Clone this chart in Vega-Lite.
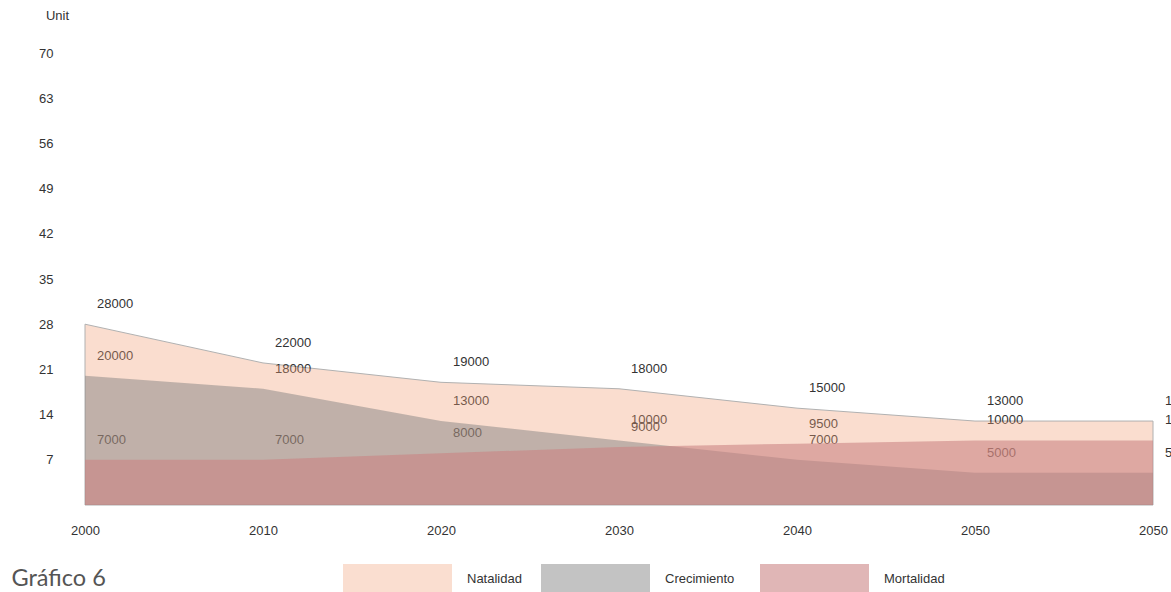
{
  "$schema": "https://vega.github.io/schema/vega-lite/v6.json",
  "autosize": {"type": "none"},
  "width": 1068,
  "height": 452,
  "padding": {"left": 85, "top": 53, "right": 18, "bottom": 87},
  "background": "white",
  "config": {
    "view": {"stroke": null},
    "font": "Liberation Sans",
    "legend": {"orient": "none", "legendY": 471.5, "direction": "horizontal", "title": null, "symbolType": "M-1,-0.275H1V0.275H-1Z", "symbolSize": 11881, "symbolStrokeWidth": 0, "labelOffset": 15, "labelFontSize": 13, "labelColor": "#333", "labelFont": "Liberation Sans", "padding": 0}
  },
  "data": {"values": [
    {"year": "2000", "serie": "Natalidad", "v": 28000},
    {"year": "2010", "serie": "Natalidad", "v": 22000},
    {"year": "2020", "serie": "Natalidad", "v": 19000},
    {"year": "2030", "serie": "Natalidad", "v": 18000},
    {"year": "2040", "serie": "Natalidad", "v": 15000},
    {"year": "2050", "serie": "Natalidad", "v": 13000},
    {"year": "2050 ", "serie": "Natalidad", "v": 13000},
    {"year": "2000", "serie": "Crecimiento", "v": 20000},
    {"year": "2010", "serie": "Crecimiento", "v": 18000},
    {"year": "2020", "serie": "Crecimiento", "v": 13000},
    {"year": "2030", "serie": "Crecimiento", "v": 10000},
    {"year": "2040", "serie": "Crecimiento", "v": 7000},
    {"year": "2050", "serie": "Crecimiento", "v": 5000},
    {"year": "2050 ", "serie": "Crecimiento", "v": 5000},
    {"year": "2000", "serie": "Mortalidad", "v": 7000},
    {"year": "2010", "serie": "Mortalidad", "v": 7000},
    {"year": "2020", "serie": "Mortalidad", "v": 8000},
    {"year": "2030", "serie": "Mortalidad", "v": 9000},
    {"year": "2040", "serie": "Mortalidad", "v": 9500},
    {"year": "2050", "serie": "Mortalidad", "v": 10000},
    {"year": "2050 ", "serie": "Mortalidad", "v": 10000}
  ]},
  "encoding": {
    "x": {"field": "year", "type": "ordinal", "sort": null, "scale": {"type": "point", "padding": 0},
      "axis": {"title": "Gráfico 6", "titleX": -74, "titleY": 73, "titleAlign": "left", "titleAnchor": null, "titleBaseline": "middle", "titleFont": "Lato", "titleFontSize": 23.5, "titleFontWeight": "normal", "titleColor": "#555",
        "labelAngle": 0, "labelExpr": "trim(datum.label)", "labelFontSize": 13, "labelColor": "#333", "labelPadding": 19, "ticks": false, "tickSize": 0, "domain": false, "grid": false}},
    "y": {"field": "v", "type": "quantitative", "stack": null, "scale": {"domain": [0, 70000], "nice": false},
      "axis": {"values": [7000, 14000, 21000, 28000, 35000, 42000, 49000, 56000, 63000, 70000], "labelExpr": "'' + datum.value / 1000", "title": "Unit", "titleAngle": 0, "titleX": -28, "titleY": -38, "titleAlign": "center", "titleBaseline": "middle", "titleFontWeight": "normal", "titleFontSize": 13, "titleColor": "#333", "labelFontSize": 13, "labelColor": "#333", "labelPadding": 32, "ticks": false, "tickSize": 0, "domain": false, "grid": false}}
  },
  "layer": [
    {
      "mark": {"type": "text", "align": "left", "baseline": "middle", "dx": 12, "dy": -20, "fontSize": 13, "color": "#333"},
      "encoding": {"text": {"field": "v", "type": "quantitative", "format": "d"}}
    },
    {
      "transform": [{"filter": "datum.serie === 'Natalidad'"}],
      "mark": {"type": "area", "opacity": 0.35, "stroke": "#222", "strokeWidth": 1},
      "encoding": {"color": {"field": "serie", "type": "nominal",
        "scale": {"domain": ["Natalidad"], "range": ["#F1A179"]},
        "legend": {"legendX": 258, "symbolOpacity": 0.35}}}
    },
    {
      "transform": [{"filter": "datum.serie === 'Crecimiento'"}],
      "mark": {"type": "area", "opacity": 0.45},
      "encoding": {"color": {"field": "serie", "type": "nominal",
        "scale": {"domain": ["Crecimiento"], "range": ["#7A7A7A"]},
        "legend": {"legendX": 456, "symbolOpacity": 0.45}}}
    },
    {
      "transform": [{"filter": "datum.serie === 'Mortalidad'"}],
      "mark": {"type": "area", "opacity": 0.58},
      "encoding": {"color": {"field": "serie", "type": "nominal",
        "scale": {"domain": ["Mortalidad"], "range": ["#CA8181"]},
        "legend": {"legendX": 675, "symbolOpacity": 0.58}}}
    }
  ],
  "resolve": {"scale": {"color": "independent"}, "legend": {"color": "independent"}}
}
